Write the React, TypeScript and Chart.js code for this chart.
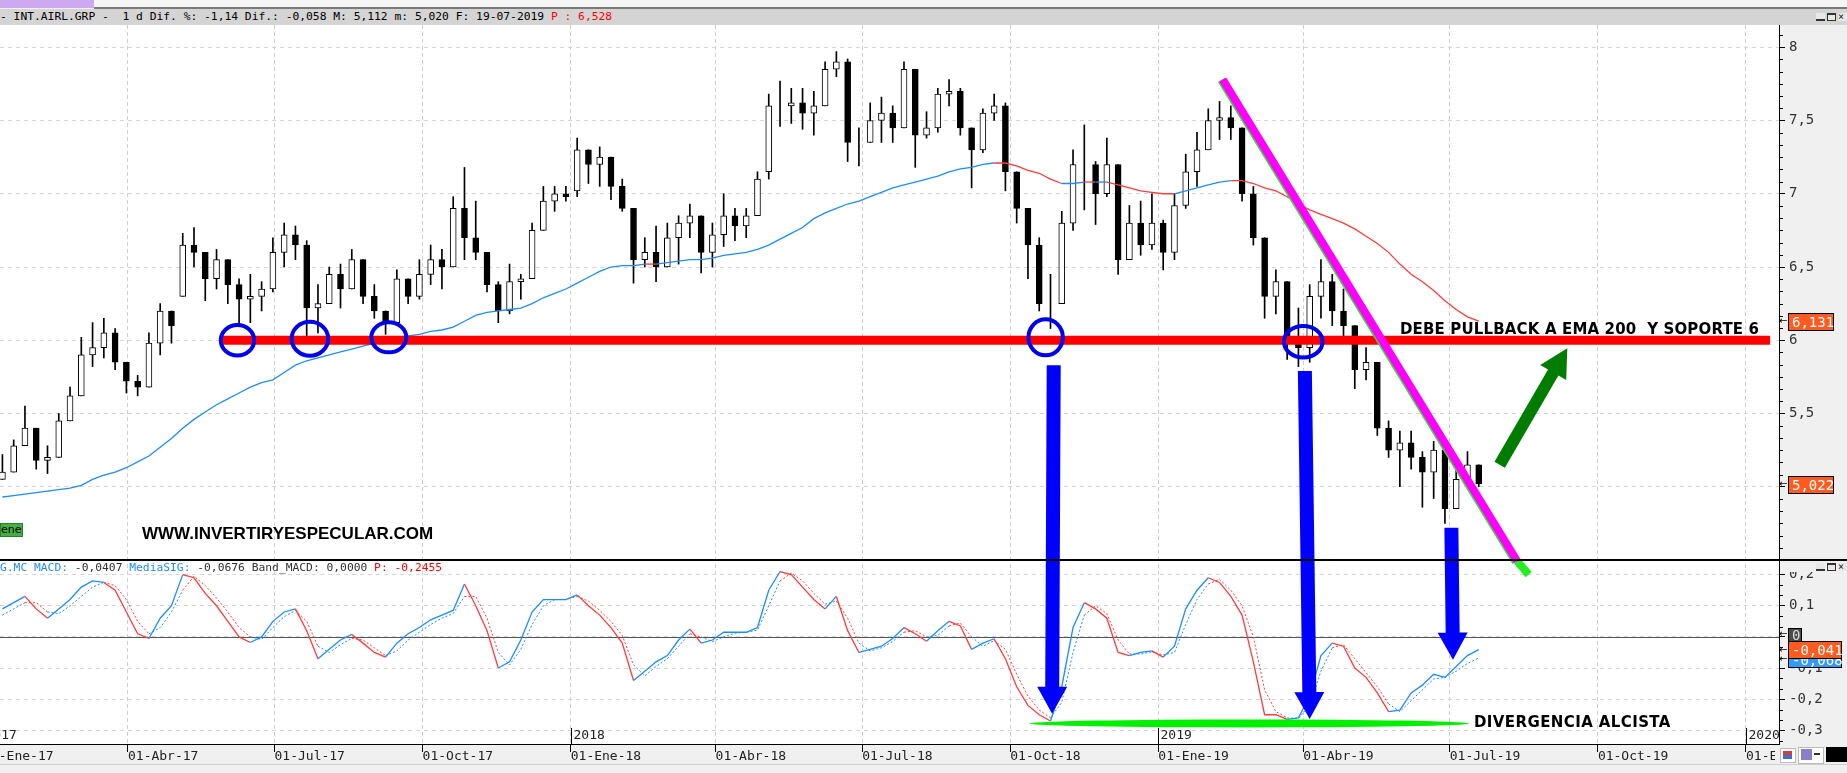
import React, { useEffect, useRef } from 'react';
import { Chart, registerables } from 'chart.js';

Chart.register(...registerables);

// ---------------- DATA (weekly bars) ----------------
const FIRST_WEEK = '2017-01-13';

const OPEN = [
  5.05, 5.10, 5.28, 5.40, 5.18, 5.20, 5.45, 5.62, 5.90, 5.95,
  6.05, 5.85, 5.72, 5.68, 5.98, 6.20, 6.30, 6.65, 6.60, 6.42,
  6.55, 6.38, 6.28, 6.30, 6.35, 6.60, 6.72, 6.65, 6.22, 6.25,
  6.45, 6.35, 6.55, 6.30, 6.20, 6.12, 6.42, 6.30, 6.45, 6.55,
  6.50, 6.90, 6.70, 6.60, 6.38, 6.20, 6.40, 6.42, 6.75, 6.95,
  7.00, 7.02, 7.30, 7.20, 7.25, 7.05, 6.90, 6.55, 6.60, 6.50,
  6.70, 6.80, 6.85, 6.60, 6.72, 6.85, 6.78, 6.85, 7.15, 7.60,
  7.60, 7.62, 7.55, 7.60, 7.85, 7.90, 7.35, 7.35, 7.50, 7.55,
  7.45, 7.85, 7.40, 7.45, 7.68, 7.70, 7.45, 7.30, 7.55, 7.60,
  7.15, 6.90, 6.65, 6.25, 6.25, 6.80, 7.20, 7.20, 7.00, 7.20,
  6.55, 6.80, 6.65, 6.80, 6.60, 6.92, 7.15, 7.30, 7.50, 7.52,
  7.45, 7.00, 6.70, 6.30, 6.40, 6.00, 5.95, 6.30, 6.40, 6.20,
  6.10, 5.80, 5.85, 5.40, 5.25, 5.30, 5.20, 5.10, 5.25, 4.85,
  5.05, 5.15,
];
const CLOSE = [
  5.10, 5.28, 5.40, 5.18, 5.20, 5.45, 5.62, 5.90, 5.95, 6.05,
  5.85, 5.72, 5.68, 5.98, 6.20, 6.10, 6.65, 6.60, 6.42, 6.55,
  6.38, 6.28, 6.30, 6.35, 6.60, 6.72, 6.65, 6.22, 6.25, 6.45,
  6.35, 6.55, 6.30, 6.20, 6.12, 6.42, 6.30, 6.45, 6.55, 6.50,
  6.90, 6.70, 6.60, 6.38, 6.20, 6.40, 6.42, 6.75, 6.95, 7.00,
  6.98, 7.30, 7.20, 7.25, 7.05, 6.90, 6.55, 6.60, 6.50, 6.70,
  6.80, 6.85, 6.60, 6.72, 6.85, 6.78, 6.85, 7.10, 7.60, 7.60,
  7.62, 7.55, 7.60, 7.85, 7.90, 7.35, 7.35, 7.50, 7.55, 7.45,
  7.85, 7.40, 7.45, 7.68, 7.70, 7.45, 7.30, 7.55, 7.60, 7.15,
  6.90, 6.65, 6.25, 6.25, 6.80, 7.20, 7.20, 7.00, 7.20, 6.55,
  6.80, 6.65, 6.80, 6.60, 6.92, 7.15, 7.30, 7.50, 7.52, 7.45,
  7.00, 6.70, 6.30, 6.40, 6.00, 5.95, 6.30, 6.40, 6.20, 6.10,
  5.80, 5.85, 5.40, 5.25, 5.30, 5.20, 5.10, 5.25, 4.85, 5.05,
  5.15, 5.02,
];
const HIGH = [
  5.22, 5.32, 5.55, 5.40, 5.28, 5.50, 5.68, 6.02, 6.12, 6.15,
  6.08, 5.80, 5.76, 6.05, 6.25, 6.20, 6.73, 6.77, 6.55, 6.62,
  6.55, 6.42, 6.45, 6.40, 6.70, 6.80, 6.78, 6.68, 6.38, 6.50,
  6.52, 6.62, 6.45, 6.38, 6.20, 6.48, 6.42, 6.55, 6.65, 6.62,
  6.98, 7.18, 6.95, 6.60, 6.40, 6.52, 6.45, 6.80, 7.05, 7.05,
  7.05, 7.38, 7.30, 7.32, 7.20, 7.10, 6.85, 6.70, 6.78, 6.80,
  6.85, 6.93, 6.85, 6.80, 7.00, 6.90, 6.90, 7.15, 7.68, 7.77,
  7.72, 7.72, 7.70, 7.90, 7.97, 7.92, 7.45, 7.62, 7.66, 7.60,
  7.90, 7.85, 7.56, 7.72, 7.78, 7.72, 7.45, 7.58, 7.68, 7.62,
  7.15, 6.90, 6.70, 6.45, 6.88, 7.30, 7.47, 7.22, 7.38, 7.18,
  6.92, 6.95, 7.00, 6.82, 7.00, 7.27, 7.42, 7.58, 7.63, 7.60,
  7.45, 7.05, 6.65, 6.48, 6.40, 6.22, 6.38, 6.55, 6.45, 6.35,
  6.10, 5.95, 5.85, 5.45, 5.38, 5.38, 5.24, 5.31, 5.25, 5.15,
  5.24, 5.13,
];
const LOW = [
  5.05, 5.10, 5.30, 5.12, 5.09, 5.20, 5.47, 5.65, 5.82, 5.88,
  5.80, 5.64, 5.62, 5.70, 5.90, 5.98, 6.30, 6.50, 6.27, 6.35,
  6.25, 6.10, 6.12, 6.20, 6.33, 6.50, 6.55, 6.03, 6.05, 6.25,
  6.22, 6.35, 6.25, 6.15, 6.04, 6.10, 6.25, 6.28, 6.38, 6.35,
  6.52, 6.55, 6.55, 6.33, 6.12, 6.18, 6.28, 6.42, 6.75, 6.88,
  6.95, 6.98, 7.07, 7.05, 6.96, 6.88, 6.39, 6.50, 6.40, 6.50,
  6.52, 6.70, 6.46, 6.50, 6.64, 6.68, 6.70, 6.85, 7.10, 7.46,
  7.48, 7.44, 7.40, 7.60, 7.80, 7.22, 7.19, 7.35, 7.35, 7.35,
  7.45, 7.18, 7.38, 7.42, 7.60, 7.40, 7.04, 7.28, 7.50, 7.02,
  6.80, 6.42, 6.20, 6.08, 6.25, 6.75, 6.89, 6.79, 6.98, 6.45,
  6.55, 6.58, 6.62, 6.48, 6.55, 6.90, 7.05, 7.30, 7.37, 7.37,
  6.95, 6.65, 6.15, 6.18, 5.87, 5.82, 5.85, 6.15, 6.10, 6.00,
  5.67, 5.73, 5.35, 5.20, 5.00, 5.12, 4.86, 4.92, 4.75, 4.85,
  5.02, 5.00,
];
const EMA200 = [
  4.93, 4.94, 4.95, 4.96, 4.97, 4.98, 4.99, 5.01, 5.05, 5.08,
  5.10, 5.13, 5.17, 5.21, 5.27, 5.33, 5.40, 5.46, 5.51, 5.56,
  5.60, 5.64, 5.68, 5.71, 5.73, 5.78, 5.83, 5.86, 5.88, 5.90,
  5.92, 5.94, 5.96, 5.98, 6.00, 6.02, 6.03, 6.04, 6.06, 6.07,
  6.09, 6.13, 6.17, 6.19, 6.20, 6.21, 6.22, 6.25, 6.29, 6.32,
  6.35, 6.39, 6.43, 6.47, 6.50, 6.51, 6.51, 6.52, 6.52, 6.53,
  6.54, 6.55, 6.55, 6.56, 6.58, 6.59, 6.60, 6.62, 6.65, 6.69,
  6.73, 6.77, 6.83, 6.87, 6.90, 6.93, 6.95, 6.98, 7.01, 7.04,
  7.06, 7.08, 7.10, 7.12, 7.15, 7.17, 7.18, 7.20, 7.21, 7.21,
  7.19, 7.16, 7.14, 7.10, 7.07, 7.07, 7.08, 7.08, 7.08, 7.06,
  7.04, 7.02, 7.01, 7.00, 7.00, 7.02, 7.04, 7.06, 7.08, 7.09,
  7.09, 7.07, 7.04, 7.02, 6.98, 6.93, 6.89, 6.86, 6.83, 6.80,
  6.76, 6.71, 6.66, 6.60, 6.52, 6.45, 6.40, 6.34, 6.27, 6.21,
  6.16, 6.13,
];
const MACD = [
  0.09, 0.11, 0.13, 0.09, 0.06, 0.09, 0.12, 0.16, 0.18, 0.175,
  0.15, 0.08, 0.01, -0.005, 0.06, 0.10, 0.20, 0.19, 0.14, 0.10,
  0.05, 0.00, -0.018, 0.00, 0.05, 0.08, 0.09, 0.02, -0.07, -0.04,
  -0.01, 0.008, -0.02, -0.05, -0.065, -0.02, 0.01, 0.03, 0.055, 0.07,
  0.085, 0.17, 0.10, 0.02, -0.10, -0.08, -0.01, 0.08, 0.12, 0.12,
  0.12, 0.135, 0.10, 0.07, 0.03, -0.02, -0.14, -0.11, -0.08, -0.06,
  -0.01, 0.025, -0.02, -0.01, 0.015, 0.015, 0.015, 0.03, 0.15, 0.21,
  0.20, 0.16, 0.12, 0.09, 0.13, 0.02, -0.05, -0.04, -0.03, -0.005,
  0.03, 0.01, -0.014, 0.02, 0.05, 0.035, -0.04, -0.02, -0.006, -0.07,
  -0.16, -0.22, -0.25, -0.27, -0.16, 0.03, 0.11, 0.09, 0.06, -0.05,
  -0.06, -0.05, -0.045, -0.065, -0.03, 0.09, 0.15, 0.19, 0.175, 0.13,
  0.07, -0.08, -0.25, -0.25, -0.265, -0.26, -0.19, -0.06, -0.02, -0.03,
  -0.10, -0.13, -0.18, -0.24, -0.235, -0.18, -0.155, -0.12, -0.13, -0.095,
  -0.06, -0.041,
];
const SIGNAL = [
  0.07, 0.09, 0.11, 0.11, 0.08, 0.075, 0.10, 0.13, 0.16, 0.175,
  0.165, 0.12, 0.05, 0.01, 0.03, 0.08, 0.15, 0.195, 0.165, 0.125,
  0.08, 0.03, 0.00, -0.008, 0.03, 0.065, 0.085, 0.05, -0.03, -0.05,
  -0.025, -0.005, -0.01, -0.035, -0.06, -0.045, -0.01, 0.015, 0.04, 0.06,
  0.075, 0.13, 0.13, 0.06, -0.05, -0.09, -0.04, 0.04, 0.10, 0.12,
  0.12, 0.13, 0.115, 0.085, 0.05, 0.005, -0.09, -0.125, -0.095, -0.07,
  -0.03, 0.01, 0.00, -0.015, 0.00, 0.012, 0.015, 0.022, 0.10, 0.18,
  0.205, 0.18, 0.14, 0.105, 0.115, 0.06, -0.02, -0.045, -0.035, -0.015,
  0.015, 0.02, 0.00, 0.005, 0.035, 0.045, 0.00, -0.03, -0.012, -0.04,
  -0.12, -0.19, -0.235, -0.26, -0.21, -0.05, 0.07, 0.10, 0.075, -0.01,
  -0.055, -0.055, -0.048, -0.058, -0.05, 0.04, 0.12, 0.17, 0.185, 0.15,
  0.10, 0.00, -0.17, -0.24, -0.26, -0.262, -0.22, -0.11, -0.035, -0.025,
  -0.07, -0.115, -0.16, -0.215, -0.24, -0.205, -0.17, -0.135, -0.13, -0.11,
  -0.085, -0.0676,
];

const QUARTER_TICKS = [
  '2017-01-01', '2017-04-01', '2017-07-01', '2017-10-01',
  '2018-01-01', '2018-04-01', '2018-07-01', '2018-10-01',
  '2019-01-01', '2019-04-01', '2019-07-01', '2019-10-01', '2020-01-01',
];
const YEAR_MARKS = ['2017-01-01', '2018-01-01', '2019-01-01', '2020-01-01'];
const MONTHS_ES = ['Ene', 'Feb', 'Mar', 'Abr', 'May', 'Jun', 'Jul', 'Ago', 'Sep', 'Oct', 'Nov', 'Dic'];

// annotations (data coordinates)
const SUPPORT_LEVEL = 6.0;
const SUPPORT_SPAN = ['2017-05-29', '2020-01-16'];
const TOUCH_DATES = ['2017-06-08', '2017-07-23', '2017-09-10', '2018-10-23', '2019-04-01'];
const TOUCH_PRICES = [6.0, 6.01, 6.02, 6.02, 5.99];
const TREND_DATES = ['2019-02-10', '2019-08-12', '2019-08-19'];
const TREND_PRICES = [7.78, 4.49, 4.40];
const DOWN_ARROW_FROM = ['2018-10-28', '2019-04-02', '2019-07-02'];
const DOWN_ARROW_FROM_PRICE = [5.83, 5.79, 4.72];
const DOWN_ARROW_TO = ['2018-10-27', '2019-04-05', '2019-07-03'];
const DOWN_ARROW_TO_MACD = [-0.247, -0.264, -0.073];
const UP_ARROW_DATES = ['2019-08-01', '2019-09-12'];
const UP_ARROW_PRICES = [5.15, 5.945];
const DIVERGENCE_DATES = ['2018-10-13', '2019-07-13'];
const DIVERGENCE_MACD = -0.278;

// ---------------- helpers ----------------
const MS_DAY = 86400000;
const EPOCH = Date.UTC(2018, 0, 1);
const toDay = (iso: string) => (Date.parse(iso + 'T00:00:00Z') - EPOCH) / MS_DAY;
const weekDay = (k: number) => toDay(FIRST_WEEK) + 7 * k;
const fmtQuarter = (v: number) => {
  const d = new Date(EPOCH + Math.round(v) * MS_DAY);
  return `01-${MONTHS_ES[d.getUTCMonth()]}-${String(d.getUTCFullYear()).slice(2)}`;
};

const BLUE = '#1e8cff';
const RED = '#ff3b3b';
const MONO = '"DejaVu Sans Mono", monospace';

const CIRCLE_RX = [16.7, 18.3, 17.5, 17.2, 19.3];
const CIRCLE_RY = [15.3, 17, 15, 18, 15.8];

function drawArrow(ctx: CanvasRenderingContext2D, x0: number, y0: number, x1: number, y1: number,
  shaft: number, headLen: number, headHalf: number, color: string) {
  const dx = x1 - x0, dy = y1 - y0;
  const len = Math.hypot(dx, dy);
  const ux = dx / len, uy = dy / len;
  const nx = -uy, ny = ux;
  const bx = x1 - ux * headLen, by = y1 - uy * headLen;
  ctx.fillStyle = color;
  ctx.beginPath();
  ctx.moveTo(x0 + nx * shaft / 2, y0 + ny * shaft / 2);
  ctx.lineTo(bx + nx * shaft / 2, by + ny * shaft / 2);
  ctx.lineTo(bx + nx * headHalf, by + ny * headHalf);
  ctx.lineTo(x1, y1);
  ctx.lineTo(bx - nx * headHalf, by - ny * headHalf);
  ctx.lineTo(bx - nx * shaft / 2, by - ny * shaft / 2);
  ctx.lineTo(x0 - nx * shaft / 2, y0 - ny * shaft / 2);
  ctx.closePath();
  ctx.fill();
}

const decor = {
  id: 'decor',
  beforeDraw(chart: any) {
    const { ctx, chartArea: a } = chart;
    ctx.save();
    ctx.fillStyle = '#ffffff';
    ctx.fillRect(a.left, a.top, a.right - a.left, a.bottom - a.top);
    ctx.restore();
  },
  beforeDatasetsDraw(chart: any) {
    const { ctx, chartArea: a, scales } = chart;
    const { x, y, y2 } = scales;
    ctx.save();
    // MACD zero line
    const z = Math.round(y2.getPixelForValue(0)) + 0.5;
    ctx.strokeStyle = '#555';
    ctx.lineWidth = 1;
    ctx.beginPath(); ctx.moveTo(a.left, z); ctx.lineTo(a.right, z); ctx.stroke();
    // minor ticks on the right axes
    ctx.strokeStyle = '#000';
    const ax = y.left;
    ctx.beginPath();
    for (let i = 0; i <= 44; i++) {
      if (i % 6 === 0) continue;
      const v = 4.5 + i / 12;
      if (v > y.max) break;
      const py = Math.round(y.getPixelForValue(v)) + 0.5;
      ctx.moveTo(ax, py); ctx.lineTo(ax + 4, py);
    }
    for (let i = -10; i <= 7; i++) {
      if (i % 3 === 0) continue;
      const v = (i * 0.1) / 3;
      if (v < y2.min || v > y2.max) continue;
      const py = Math.round(y2.getPixelForValue(v)) + 0.5;
      ctx.moveTo(ax, py); ctx.lineTo(ax + 4, py);
    }
    ctx.stroke();
    // year markers inside MACD pane
    ctx.beginPath();
    ctx.rect(a.left, a.top, a.right - a.left, a.bottom - a.top);
    ctx.clip();
    ctx.font = `13px ${MONO}`;
    ctx.fillStyle = '#222';
    ctx.textBaseline = 'middle';
    ctx.textAlign = 'left';
    YEAR_MARKS.forEach((s) => {
      const px = Math.round(x.getPixelForValue(toDay(s))) + 0.5;
      ctx.beginPath(); ctx.moveTo(px, a.bottom - 16); ctx.lineTo(px, a.bottom); ctx.stroke();
      ctx.fillText(s.slice(0, 4), px + 2, a.bottom - 8);
    });
    ctx.restore();
  },
  afterDatasetsDraw(chart: any) {
    const { ctx, scales } = chart;
    const { x, y, y2 } = scales;
    const px = (d: string) => x.getPixelForValue(toDay(d));
    ctx.save();
    // support line
    const sy = y.getPixelForValue(SUPPORT_LEVEL);
    ctx.strokeStyle = '#ff0000';
    ctx.lineWidth = 9;
    ctx.lineCap = 'butt';
    ctx.beginPath(); ctx.moveTo(px(SUPPORT_SPAN[0]), sy); ctx.lineTo(px(SUPPORT_SPAN[1]), sy); ctx.stroke();
    // touch circles
    ctx.strokeStyle = '#0000f0';
    ctx.lineWidth = 4;
    TOUCH_DATES.forEach((d, i) => {
      ctx.beginPath();
      ctx.ellipse(px(d), y.getPixelForValue(TOUCH_PRICES[i]), CIRCLE_RX[i], CIRCLE_RY[i], 0, 0, Math.PI * 2);
      ctx.stroke();
    });
    // trend line
    const tx0 = px(TREND_DATES[0]), ty0 = y.getPixelForValue(TREND_PRICES[0]);
    const tx1 = px(TREND_DATES[1]), ty1 = y.getPixelForValue(TREND_PRICES[1]);
    const tx2 = px(TREND_DATES[2]), ty2 = y.getPixelForValue(TREND_PRICES[2]);
    ctx.lineWidth = 8;
    ctx.strokeStyle = '#33dd33';
    ctx.beginPath(); ctx.moveTo(tx0 - 1.5, ty0 + 0.5); ctx.lineTo(tx1 - 1.5, ty1 + 0.5); ctx.stroke();
    ctx.strokeStyle = '#ff00ff';
    ctx.beginPath(); ctx.moveTo(tx0, ty0); ctx.lineTo(tx1, ty1); ctx.stroke();
    ctx.strokeStyle = '#22ee22';
    ctx.beginPath(); ctx.moveTo(tx1, ty1); ctx.lineTo(tx2, ty2); ctx.stroke();
    // divergence ellipse
    const ex0 = px(DIVERGENCE_DATES[0]), ex1 = px(DIVERGENCE_DATES[1]);
    ctx.fillStyle = '#00f000';
    ctx.beginPath();
    ctx.ellipse((ex0 + ex1) / 2, y2.getPixelForValue(DIVERGENCE_MACD), (ex1 - ex0) / 2, 4, 0, 0, Math.PI * 2);
    ctx.fill();
    // down arrows
    DOWN_ARROW_FROM.forEach((d, i) => {
      drawArrow(ctx, px(d), y.getPixelForValue(DOWN_ARROW_FROM_PRICE[i]),
        px(DOWN_ARROW_TO[i]), y2.getPixelForValue(DOWN_ARROW_TO_MACD[i]), 14, 27, 15, '#0000ff');
    });
    // up arrow
    drawArrow(ctx, px(UP_ARROW_DATES[0]), y.getPixelForValue(UP_ARROW_PRICES[0]),
      px(UP_ARROW_DATES[1]), y.getPixelForValue(UP_ARROW_PRICES[1]), 12, 28, 15, '#007d00');
    ctx.restore();
  },
};

const abs = (o: React.CSSProperties): React.CSSProperties => ({ position: 'absolute', ...o });

function ValueBox({ left, top, width, height, bg, color, text }: any) {
  return (
    <div style={abs({ left, top, width, height, background: bg, color, border: '1px solid #000', boxSizing: 'border-box',
      font: `14px ${MONO}`, lineHeight: `${height - 2}px`, paddingLeft: 3, whiteSpace: 'pre' })}>{text}</div>
  );
}

function WinButtons({ top }: { top: number }) {
  const b: React.CSSProperties = { width: 9, height: 8, border: '1px solid #333', background: '#e8e8e8', boxSizing: 'border-box' };
  return (
    <div style={abs({ left: 1816, top, display: 'flex', gap: 2 })}>
      <div style={{ ...b, border: 'none', borderBottom: '2px solid #333' }} />
      <div style={{ ...b, borderTop: '2px solid #333' }} />
      <div style={{ ...b, border: 'none', font: `10px ${MONO}`, lineHeight: '8px', color: '#222' }}>×</div>
    </div>
  );
}

export default function App() {
  const ref = useRef<HTMLCanvasElement>(null);

  useEffect(() => {
    const canvas = ref.current;
    if (!canvas) return;
    const days = CLOSE.map((_, k) => weekDay(k));
    const chart = new Chart(canvas, {
      type: 'line',
      data: {
        datasets: [
          {
            type: 'bar', label: 'Rango',
            data: days.map((d, k) => ({ x: d, y: [Math.min(LOW[k], OPEN[k], CLOSE[k]), Math.max(HIGH[k], OPEN[k], CLOSE[k])] })),
            backgroundColor: '#000', borderWidth: 0, barThickness: 1, grouped: false, yAxisID: 'y', order: 4,
          },
          {
            type: 'bar', label: 'INT.AIRL.GRP',
            data: days.map((d, k) => ({ x: d, y: [OPEN[k], CLOSE[k]] })),
            backgroundColor: (c: any) => (CLOSE[c.dataIndex] >= OPEN[c.dataIndex] ? '#ffffff' : '#000000'),
            borderColor: '#000', borderWidth: 1, borderSkipped: false, barThickness: 6, grouped: false, yAxisID: 'y', order: 3,
          },
          {
            type: 'line', label: 'EMA 200',
            data: days.map((d, k) => ({ x: d, y: EMA200[k] })),
            borderColor: BLUE, borderWidth: 1.3, pointRadius: 0, tension: 0, yAxisID: 'y', order: 2,
            segment: { borderColor: (s: any) => (CLOSE[s.p1DataIndex] < EMA200[s.p1DataIndex] ? RED : BLUE) },
          },
          {
            type: 'line', label: 'MACD',
            data: days.map((d, k) => ({ x: d, y: MACD[k] })),
            borderColor: BLUE, borderWidth: 1.3, pointRadius: 0, tension: 0, yAxisID: 'y2', order: 1,
            segment: { borderColor: (s: any) => (MACD[s.p1DataIndex] >= SIGNAL[s.p1DataIndex] ? BLUE : RED) },
          },
          {
            type: 'line', label: 'MediaSIG',
            data: days.map((d, k) => ({ x: d, y: SIGNAL[k] })),
            borderColor: BLUE, borderWidth: 1, borderDash: [2, 2], pointRadius: 0, tension: 0, yAxisID: 'y2', order: 1,
            segment: { borderColor: (s: any) => (MACD[s.p1DataIndex] >= SIGNAL[s.p1DataIndex] ? BLUE : RED) },
          },
        ] as any,
      },
      options: {
        animation: false,
        responsive: false,
        maintainAspectRatio: false,
        events: [],
        layout: { padding: { top: 25, left: 0, right: 0, bottom: 0 } },
        plugins: { legend: { display: false }, tooltip: { enabled: false } },
        scales: {
          x: {
            type: 'linear', position: 'bottom', min: -354.5, max: 750.5, offset: false,
            afterBuildTicks: (s: any) => { s.ticks = QUARTER_TICKS.map((q) => ({ value: toDay(q) })); },
            afterFit: (s: any) => { s.height = 29; s.paddingLeft = 0; s.paddingRight = 0; },
            ticks: {
              autoSkip: false, maxRotation: 0, minRotation: 0, align: 'start', padding: -3, color: '#222',
              font: { family: MONO, size: 13 },
              callback: (v: any) => fmtQuarter(Number(v)),
            },
            grid: { color: '#cfcfcf', lineWidth: 1, tickLength: 8, tickColor: '#000', drawTicks: true, offset: false },
            border: { display: true, color: '#000', width: 1, dash: [4, 3] },
          },
          y: {
            type: 'linear', position: 'right', stack: 'panes', stackWeight: 535,
            min: 4.5, max: 8.152,
            afterFit: (s: any) => { s.width = 68; },
            ticks: {
              autoSkip: false, stepSize: 0.5, includeBounds: false, padding: 4, color: '#333',
              font: { family: MONO, size: 14 },
              callback: (v: any) => (Number(v) <= 4.5 ? '' : String(v).replace('.', ',')),
            },
            grid: { color: '#d6d6d6', tickLength: 6, tickColor: '#000' },
            border: { display: true, color: '#000', width: 1, dash: [4, 4] },
          },
          y2: {
            type: 'linear', position: 'right', stack: 'panes', stackWeight: 184,
            min: -0.344, max: 0.247,
            afterFit: (s: any) => { s.width = 68; },
            ticks: {
              autoSkip: false, stepSize: 0.1, includeBounds: false, padding: 4, color: '#333',
              font: { family: MONO, size: 14 },
              callback: (v: any) => (Math.abs(Number(v)) < 1e-9 ? '0' : Number(v).toFixed(1).replace('.', ',')),
            },
            grid: { color: '#d6d6d6', tickLength: 6, tickColor: '#000' },
            border: { display: true, color: '#000', width: 1, dash: [4, 4] },
          },
        },
      } as any,
      plugins: [decor],
    });
    return () => chart.destroy();
  }, []);

  const arrowMark = (top: number) => (
    <div style={abs({ left: 1779, top, font: '10px "DejaVu Sans"', color: '#000', lineHeight: '10px' })}>←</div>
  );

  return (
    <div style={{ position: 'fixed', left: 0, top: 0, width: 1847, height: 773, background: '#f0f0f0', overflow: 'hidden' }}>
      <canvas ref={ref} width={1847} height={773} style={abs({ left: 0, top: 0, width: 1847, height: 773 })} />

      {/* top window strip */}
      <div style={abs({ left: 0, top: 0, width: 1847, height: 8, background: '#f6f6f6' })} />
      <div style={abs({ left: 0, top: 0, width: 94, height: 8, background: '#cfa8f2' })} />
      <div style={abs({ left: 94, top: 7, width: 1753, height: 2, background: '#7a7a7a' })} />
      <div style={abs({ left: 0, top: 9, width: 1847, height: 16, background: '#d4d4d4', whiteSpace: 'pre',
        font: `11.3px ${MONO}`, lineHeight: '16px', color: '#000' })}>
        <span>- INT.AIRL.GRP -  1 d Dif. %: -1,14 Dif.: -0,058 M: 5,112 m: 5,020 F: 19-07-2019 </span>
        <span style={{ color: '#ff0000' }}>P : 6,528</span>
      </div>
      <WinButtons top={13} />

      {/* pane separator & MACD header */}
      <div style={abs({ left: 0, top: 559, width: 1847, height: 2, background: '#000' })} />
      <div style={abs({ left: 1780, top: 561, width: 67, height: 11, background: '#f0f0f0' })} />
      <WinButtons top={563} />
      <div style={abs({ left: 0, top: 561, height: 14, whiteSpace: 'pre', font: `11.3px ${MONO}`, lineHeight: '14px', color: '#333' })}>
        <span style={{ color: '#1e8cff' }}>G.MC MACD: </span>
        <span>-0,0407 </span>
        <span style={{ color: '#1e8cff' }}>MediaSIG: </span>
        <span>-0,0676 Band_MACD: 0,0000 </span>
        <span style={{ color: '#ff0000' }}>P: -0,2455</span>
      </div>

      {/* labels inside the price pane */}
      <div style={abs({ left: 0, top: 523, width: 23, height: 14, background: '#44b044', border: '1px solid #2a802a',
        boxSizing: 'border-box', font: '11px "DejaVu Sans"', lineHeight: '12px', color: '#000', overflow: 'hidden' })}>enes</div>
      <div style={abs({ left: 142, top: 524.5, font: 'bold 17px "Liberation Sans"', lineHeight: '17px', color: '#000', whiteSpace: 'pre' })}>
        WWW.INVERTIRYESPECULAR.COM
      </div>
      <div style={abs({ left: 1400, top: 321.5, font: 'bold 15px "DejaVu Sans"', lineHeight: '15px', letterSpacing: '0.15px', color: '#000', whiteSpace: 'pre' })}>
        DEBE PULLBACK A EMA 200  Y SOPORTE 6
      </div>
      <div style={abs({ left: 1474, top: 714.5, font: 'bold 15px "DejaVu Sans"', lineHeight: '15px', letterSpacing: '0.4px', color: '#000', whiteSpace: 'pre' })}>
        DIVERGENCIA ALCISTA
      </div>

      {/* last-value boxes on the axes */}
      {arrowMark(316)}
      <ValueBox left={1788} top={313} width={46} height={18} bg="#ff5a1f" color="#fff" text="6,131" />
      {arrowMark(479)}
      <ValueBox left={1788} top={476} width={46} height={18} bg="#ff5a1f" color="#fff" text="5,022" />
      {arrowMark(629)}
      <ValueBox left={1788} top={628} width={14} height={15} bg="#4a4a4a" color="#ddd" text="0" />
      {arrowMark(645)}
      {arrowMark(654)}
      <ValueBox left={1788} top={652} width={54} height={16} bg="#3399ff" color="#fff" text="-0,068" />
      <ValueBox left={1788} top={641} width={54} height={18} bg="#ff5a1f" color="#fff" text="-0,041" />

      {/* bottom-right toolbar */}
      <div style={abs({ left: 1775, top: 745, width: 72, height: 28, background: '#f0f0f0' })} />
      <div style={abs({ left: 1780, top: 748, width: 14, height: 13, background: '#fff', border: '1px solid #bbb' })}>
        <div style={abs({ left: 2, top: 2, width: 9, height: 4, background: '#d04040' })} />
        <div style={abs({ left: 2, top: 6, width: 9, height: 4, background: '#3a70d0' })} />
      </div>
      <div style={abs({ left: 1798, top: 747, width: 24, height: 15, background: '#fff', border: '1px solid #bbb' })}>
        <div style={abs({ left: 2, top: 1, width: 11, height: 11, background: '#8a80c8' })} />
        <div style={abs({ left: 15, top: 5, width: 6, height: 2, background: '#333' })} />
      </div>
      <div style={abs({ left: 1826, top: 747, width: 21, height: 15, background: '#000' })} />
      <div style={abs({ left: 0, top: 764, width: 1847, height: 1, background: '#d0d0d0' })} />
    </div>
  );
}
